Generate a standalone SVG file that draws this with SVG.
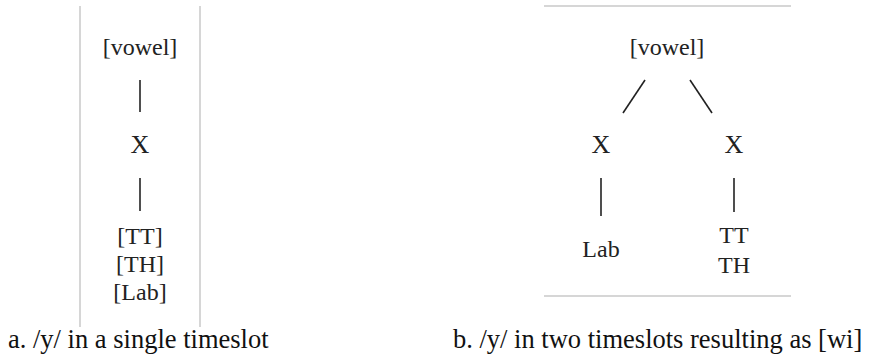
<svg xmlns="http://www.w3.org/2000/svg" width="877" height="360" viewBox="0 0 877 360">
<style>
.t{font-family:'Liberation Serif','Tinos','Times New Roman','Nimbus Roman','DejaVu Serif',serif;font-size:24px;fill:#222;text-anchor:middle}
.x{font-size:26px}
.cap{font-family:'Liberation Serif','Tinos','Times New Roman','Nimbus Roman','DejaVu Serif',serif;font-size:26.5px;fill:#111}
.frame{stroke:#c8c8c8;stroke-width:1.5;fill:none}
.edge{stroke:#222;stroke-width:1.6;fill:none}
</style>
<rect width="877" height="360" fill="#fff"/>
<g id="frames">
<line class="frame" x1="80" y1="6" x2="80" y2="327"/>
<line class="frame" x1="200" y1="6" x2="200" y2="327"/>
<line class="frame" x1="544" y1="6" x2="791" y2="6"/>
<line class="frame" x1="544" y1="296" x2="791" y2="296"/>
</g>
<g id="connectors">
<line class="edge" x1="140" y1="80" x2="140" y2="112"/>
<line class="edge" x1="140" y1="178" x2="140" y2="211"/>
<line class="edge" x1="645" y1="80" x2="623" y2="113"/>
<line class="edge" x1="690" y1="80" x2="712" y2="113"/>
<line class="edge" x1="601" y1="178" x2="601" y2="216"/>
<line class="edge" x1="734" y1="178" x2="734" y2="212"/>
</g>
<g id="a-vowel"><text class="t" x="140" y="55">[vowel]</text></g>
<g id="a-x"><text class="t x" x="140" y="153">X</text></g>
<g id="a-features"><text class="t" x="140" y="244">[TT]</text><text class="t" x="140" y="272">[TH]</text><text class="t" x="140" y="300">[Lab]</text></g>
<g id="b-vowel"><text class="t" x="667" y="55">[vowel]</text></g>
<g id="b-x1"><text class="t x" x="601" y="153">X</text></g>
<g id="b-x2"><text class="t x" x="734" y="153">X</text></g>
<g id="b-lab"><text class="t" x="601" y="257">Lab</text></g>
<g id="b-tt"><text class="t" x="734" y="243">TT</text><text class="t" x="734" y="273">TH</text></g>
<g id="captions">
<text class="cap" x="8" y="348">a. /y/ in a single timeslot</text>
<text class="cap" x="453" y="348">b. /y/ in two timeslots resulting as [wi]</text>
</g>
</svg>
